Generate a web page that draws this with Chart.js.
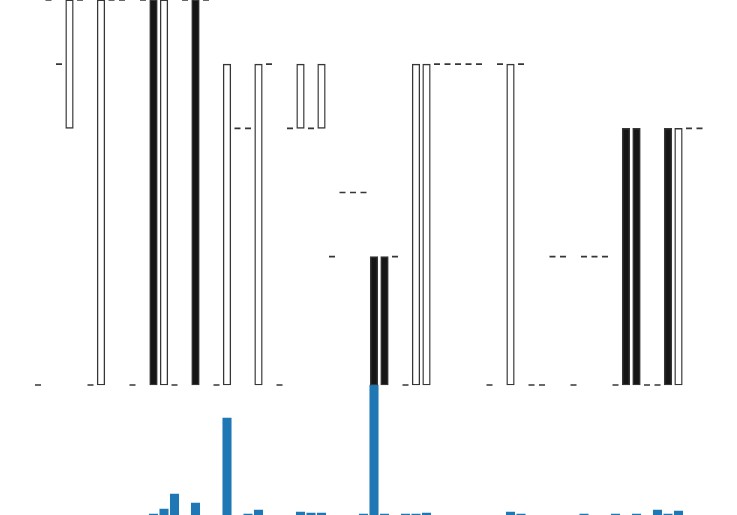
<!DOCTYPE html>
<html>
<head>
<meta charset="utf-8">
<script src="https://cdn.jsdelivr.net/npm/chart.js@4/dist/chart.umd.min.js"></script>
<style>
html,body{margin:0;padding:0;background:#fff;}
#wrap{width:737px;height:515px;}
</style>
</head>
<body>
<div id="wrap"><canvas id="c" width="737" height="515"></canvas></div>
<script>
const categories = ["1","2","3","4","5","6","7","8","9","10","11","12","13","14","15","16",
  "17","18","19","20","21","22","23","24","25","26","27","28","29","30","31","32",
  "33","34","35","36","37","38","39","40","41","42","43","44","45","46","47","48",
  "49","50","51","52","53","54","55","56","57","58","59","60","61","62","63","64"];
const opens  = [0,6,5,4,6,0,0,6,6,0,6,6,0,0,6,6,
                6,0,0,4,4,0,5,0,4,4,4,4,2,3,3,3,
                2,2,2,0,0,0,5,5,5,5,5,0,5,0,5,0,
                0,2,2,0,2,2,2,0,4,4,0,0,4,0,4,4];
const closes = [0,6,5,6,6,0,6,6,6,0,6,0,6,0,6,0,
                6,0,5,4,4,5,5,0,4,5,4,5,2,3,3,3,
                0,0,2,0,5,5,5,5,5,5,5,0,5,5,5,0,
                0,2,2,0,2,2,2,0,0,0,0,0,0,4,4,4];
const volumes = [0,0,0,0,0,0,0,0,0,0,0,10,60,210,0,120,
                 0,0,970,0,10,50,0,0,0,30,20,20,0,0,0,10,
                 1300,10,0,10,10,20,0,0,0,0,0,0,0,30,10,0,
                 0,0,0,0,10,0,0,10,0,10,0,50,10,40,0,0];

const bodies = opens.map((o,i)=> o===closes[i] ? null : [o, closes[i]]);
const bodyColors = opens.map((o,i)=> closes[i] > o ? '#ffffff' : '#161616');
const dojis = opens.map((o,i)=> o===closes[i] ? o : null);
const volBars = volumes.map(v => v > 0 ? v : null);

new Chart(document.getElementById('c'), {
  type: 'bar',
  data: {
    labels: categories,
    datasets: [
      {
        type: 'bar',
        data: volBars,
        yAxisID: 'yv',
        backgroundColor: '#1f77b4',
        borderWidth: 0,
        barThickness: 8.4,
        grouped: false,
        order: 3
      },
      {
        type: 'bar',
        data: bodies,
        yAxisID: 'y',
        backgroundColor: bodyColors,
        borderColor: '#363636',
        borderWidth: 1.4,
        borderSkipped: false,
        barThickness: 7.6,
        grouped: false,
        order: 2
      },
      {
        type: 'line',
        data: dojis,
        yAxisID: 'y',
        showLine: false,
        pointStyle: 'line',
        pointRadius: 3,
        pointHoverRadius: 3,
        pointBorderWidth: 1.7,
        pointBorderColor: '#363636',
        borderColor: '#363636',
        order: 1
      }
    ]
  },
  options: {
    responsive: false,
    animation: false,
    devicePixelRatio: 1,
    layout: { autoPadding: false, padding: { left: 32.75, right: 32.25, top: 0, bottom: 0 } },
    plugins: { legend: { display: false }, tooltip: { enabled: false } },
    scales: {
      x: { display: false, offset: true, grid: { display: false } },
      y: { display: false, min: -2.026, max: 6 },
      yv: { display: false, min: 0, max: 5150 }
    }
  }
});
</script>
</body>
</html>
